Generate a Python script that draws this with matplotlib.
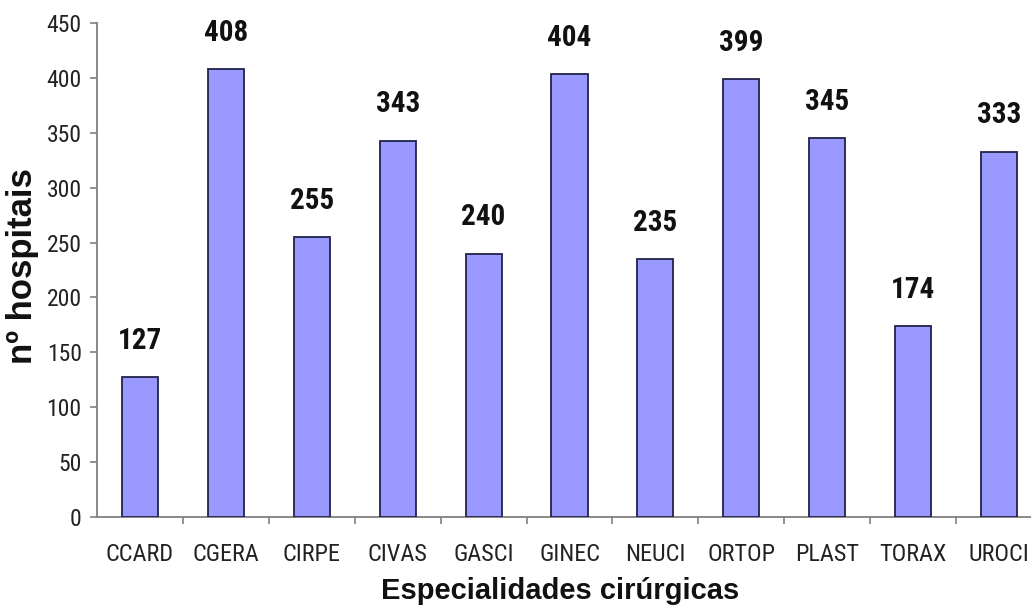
import numpy as np
import matplotlib.pyplot as plt
from matplotlib.ticker import FixedLocator

# Surgical specialties and number of hospitals
especialidades = ["CCARD", "CGERA", "CIRPE", "CIVAS", "GASCI", "GINEC",
                  "NEUCI", "ORTOP", "PLAST", "TORAX", "UROCI"]
n_hospitais = [127, 408, 255, 343, 240, 404, 235, 399, 345, 174, 333]
y_ticks = [0, 50, 100, 150, 200, 250, 300, 350, 400, 450]

plt.rcParams['font.family'] = ['Liberation Sans', 'DejaVu Sans']
narrow = ['Roboto Condensed', 'DejaVu Sans']

fig = plt.figure(figsize=(10.31, 6.14), dpi=100)
# axes runs a little past the right edge of the figure
ax = fig.add_axes([0.0941, 0.1585, 0.9166, 0.8036])

x = np.arange(len(especialidades))
bars = ax.bar(x, n_hospitais, width=0.42, color='#9999FF',
              edgecolor='#22224a', linewidth=1.3, zorder=3)

# value labels above each bar
for xi, v in zip(x, n_hospitais):
    ax.annotate(str(v), (xi, v), xytext=(0, 26), textcoords='offset points',
                ha='center', va='center', fontsize=21, fontweight='bold',
                family=narrow, color='#111111')

ax.set_xlim(-0.5, len(especialidades) - 0.5)
ax.set_ylim(0, 450)
ax.set_yticks(y_ticks)
ax.set_yticklabels([str(t) for t in y_ticks], family=narrow, fontsize=17,
                   color='#222222')

ax.set_xticks(x)
ax.set_xticklabels(especialidades, family=narrow, fontsize=17.5,
                   color='#222222')
ax.xaxis.set_minor_locator(FixedLocator(x[:-1] + 0.5))
ax.tick_params(axis='x', which='major', length=0, pad=19)
ax.tick_params(axis='x', which='minor', length=5, width=1.2,
               color='#808080', direction='out')
ax.tick_params(axis='y', length=5, width=1.2, color='#808080',
               direction='out', pad=6)

for side in ['top', 'right']:
    ax.spines[side].set_visible(False)
for side in ['left', 'bottom']:
    ax.spines[side].set_color('#808080')
    ax.spines[side].set_linewidth(1.3)

fig.text(0.022, 0.567, 'nº hospitais', rotation=90, ha='center', va='center',
         fontsize=25, fontweight='bold', color='#111111')
fig.text(0.543, 0.037, 'Especialidades cirúrgicas', ha='center', va='center',
         fontsize=21, fontweight='bold', color='#111111')

fig.savefig('out.png', dpi=100)
